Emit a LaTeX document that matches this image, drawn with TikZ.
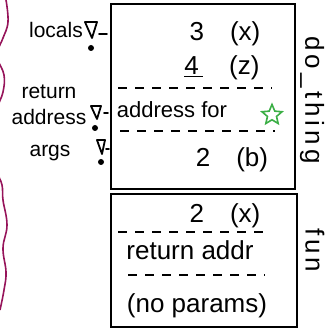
\documentclass[tikz,border=0pt]{standalone}
\usepackage{fontspec}
\setmainfont{Liberation Sans}
\newfontfamily\spaced[LetterSpace=15]{Liberation Sans}
\usetikzlibrary{shapes.geometric}
\definecolor{wavecol}{RGB}{150,20,90}
\definecolor{stargreen}{RGB}{60,175,70}

\begin{document}
\begin{tikzpicture}[
    x=1pt, y=-1pt,
    frame/.style={rectangle, draw, line width=2pt, inner sep=0pt},
    side/.style={font=\fontsize{21}{26}\selectfont, inner sep=0pt, align=center},
    slot/.style={font=\fontsize{26}{28}\selectfont, inner sep=0pt},
    fname/.style={font=\spaced\fontsize{26}{28}\selectfont, rotate=-90, inner sep=0pt},
    sep/.style={line width=1.7pt, dash pattern=on 9pt off 8pt},
    flag/.style={line width=1.8pt, line join=round},
    tick/.style={line width=1.7pt, line cap=round}
]
\useasboundingbox (0,0) rectangle (330,329);

% wavy edge on the left
\draw[wavecol, line width=1.6pt] plot[smooth, tension=0.7] coordinates {
    (6,0) (8,22) (3,38) (-2,50) (-2,60) (4,75) (3,92) (-3,110) (-6,140)
    (-3,170) (2,185) (3,200) (7,225) (3,248) (6,272) (4,290) (0,310)};

% Frames
\node[frame, minimum width=184pt, minimum height=185pt] (dothing) at (203,96.5) {};
\node[frame, minimum width=186pt, minimum height=133pt] (fun) at (204,260.5) {};

% Side labels
\node[side] (locals) at (56,30) {locals};
\node[side] (retaddr) at (49,105) {return\\address};
\node[side] (args) at (50,153) {args};

% Flags
\coordinate (lflag) at (91,30);
\coordinate (rflag) at (96,112);
\coordinate (aflag) at (101,147);
\draw[flag] (lflag) ++(-6,-8) -- ++(12,0) -- ++(-5,16) -- cycle;
\fill (lflag) ++(0,18) circle (3);
\draw[tick] (lflag) ++(8,4) -- ++(8,0);
\draw[flag] (rflag) ++(-5,-6) -- ++(10,0) -- ++(-4,13) -- cycle;
\fill (rflag) ++(-1,16) circle (3);
\draw[tick] (rflag) ++(8,1) -- ++(4,0);
\draw[flag] (aflag) ++(-4,-7) -- ++(8,0) -- ++(-3,14) -- cycle;
\fill (aflag) ++(0,15) circle (3);
\draw[tick] (aflag) ++(5,2) -- ++(3,0);

% do_thing frame
\node[slot] (x3) at (225,34) {3\quad(x)};
\node[slot] (z4) at (222,68) {\underline{4\,}\quad(z)};
\draw[sep] (118,88) -- (272,88);
\node[slot, font=\fontsize{22}{24}\selectfont] (retfor) at (172,110) {address for};
\node[star, star points=5, star point ratio=2.2, draw=stargreen, line width=1.6pt,
      minimum size=21pt, inner sep=0pt] (mark) at (272,115) {};
\draw[sep] (120,131) -- (275,131);
\node[slot] (b2) at (232,160) {2\quad(b)};
\node[fname] (dtname) at (312,100) {do\_thing};

% fun frame
\node[slot] (x2) at (225,216) {2\quad(x)};
\draw[sep] (118,232) -- (270,232);
\node[slot] (retaddr2) at (190,250) {return addr};
\draw[sep] (128,275) -- (265,275);
\node[slot] (noparams) at (197,306) {(no params)};
\node[fname] (fnname) at (315,250) {fun};

\end{tikzpicture}
\end{document}
